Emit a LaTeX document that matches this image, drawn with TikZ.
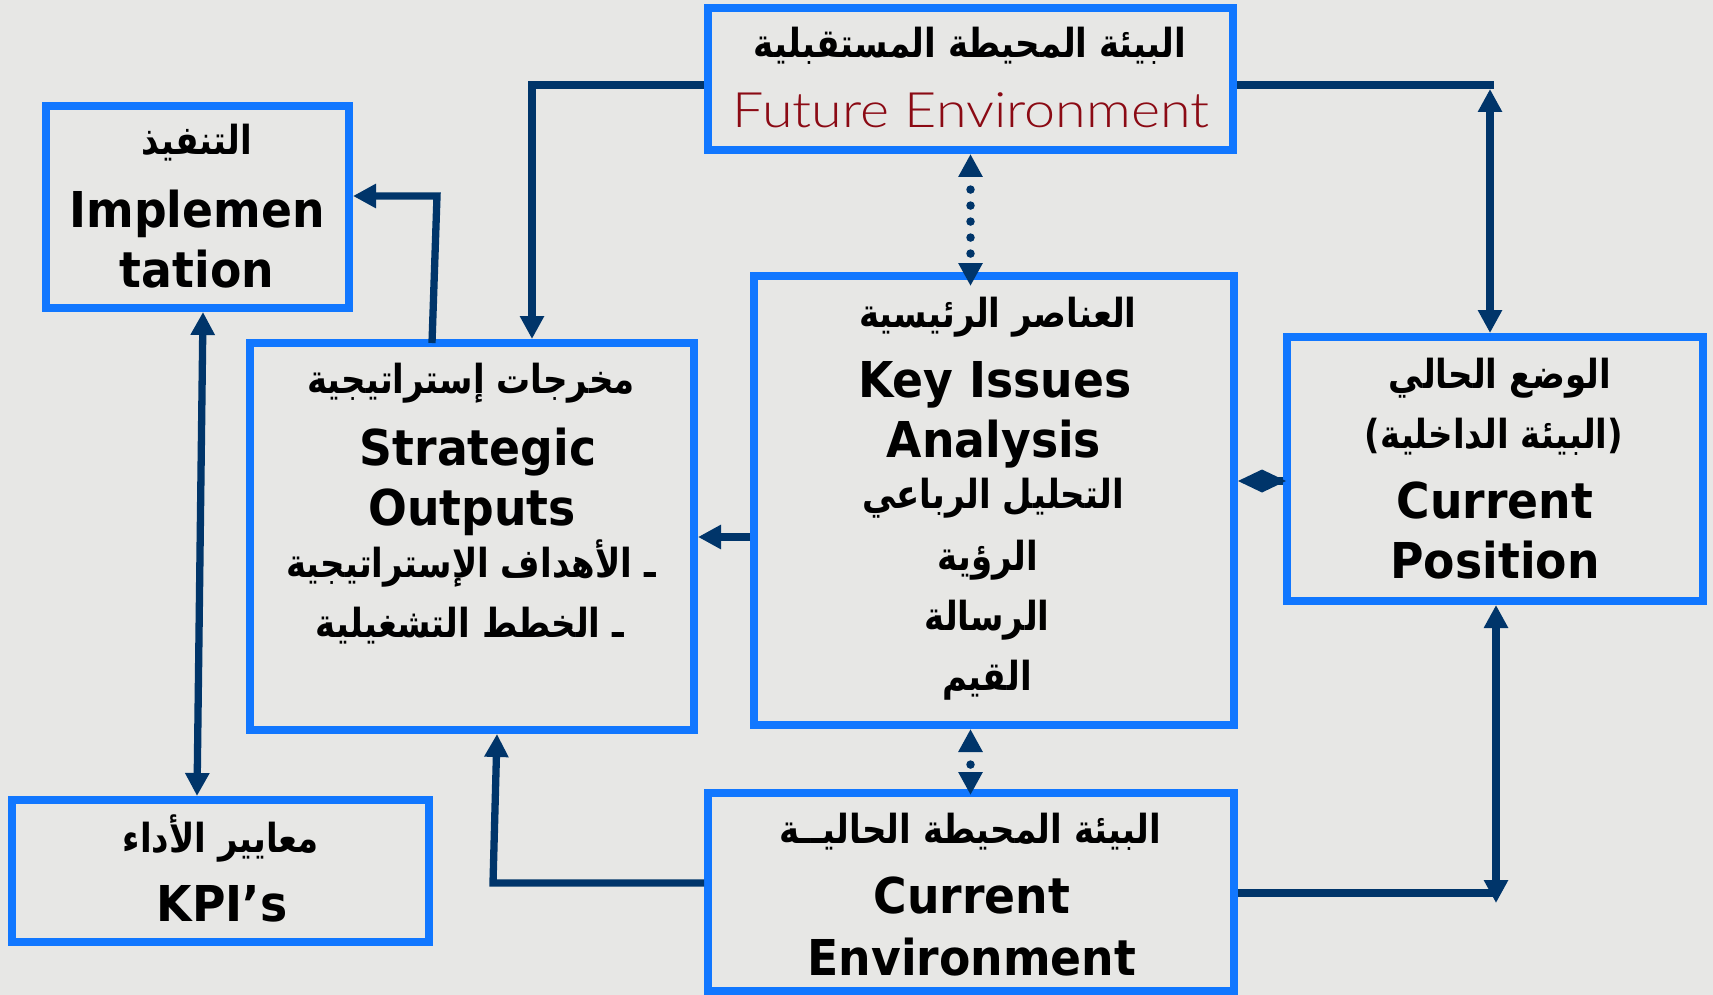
\documentclass[tikz,border=0pt]{standalone}
\usepackage{fontspec}
\usetikzlibrary{arrows.meta}
\TeXXeTstate=1
\newfontfamily\arfont[Script=Arabic,FakeStretch=0.85]{DejaVu Sans}
\newfontfamily\enfont[FakeStretch=0.925]{DejaVu Sans}
\IfFontExistsTF{Lato Light}{\newfontfamily\thinfont[FakeStretch=1.14]{Lato Light}}{\newfontfamily\thinfont[FakeStretch=1.14]{Lato}}
\definecolor{bg}{HTML}{E7E7E5}
\definecolor{boxblue}{HTML}{1177FF}
\definecolor{navy}{HTML}{00356A}
\definecolor{darkred}{HTML}{8B0A14}
\tikzset{
  box/.style={draw=boxblue, line width=8pt, inner sep=0pt},
  en/.style={anchor=base, inner sep=0pt, font=\enfont\bfseries\fontsize{49.4}{50}\selectfont},
  ar/.style={anchor=base, inner sep=0pt, font=\arfont\bfseries\fontsize{40}{44}\selectfont},
  thin/.style={anchor=base, inner sep=0pt, text=darkred, font=\thinfont\fontsize{48.8}{50}\selectfont},
  conn/.style={draw=navy, line width=7.3pt},
  dotconn/.style={draw=navy, line width=8.5pt, line cap=round, dash pattern=on 0pt off 16pt, dash phase=2pt},
  tri/.tip={Triangle[length=23pt,width=23pt]},
  dia/.tip={Diamond[length=48pt,width=23pt]}
}
\begin{document}
\begin{tikzpicture}[x=1pt,y=-1pt]
\path[use as bounding box, fill=bg] (0,0) rectangle (1713,995);

% boxes
\node[box, minimum width=525pt, minimum height=142pt] (fut) at (970.5,79) {};
\node[box, minimum width=303pt, minimum height=202pt] (impl) at (197.5,207) {};
\node[box, minimum width=444pt, minimum height=387pt] (strat) at (472,536.5) {};
\node[box, minimum width=480pt, minimum height=449pt] (key) at (994,500.5) {};
\node[box, minimum width=416pt, minimum height=264pt] (cpos) at (1495,469) {};
\node[box, minimum width=417pt, minimum height=142pt] (kpi) at (220.5,871) {};
\node[box, minimum width=526pt, minimum height=198pt] (cenv) at (971,892) {};

% texts: future environment
\node[ar] (f1) at (970,58) {\beginR البيئة المحيطة المستقبلية\endR};
\node[thin] (f2) at (971,128) {Future Environment};
% implementation
\node[ar] (i1) at (197,155) {\beginR التنفيذ\endR};
\node[en] (i2) at (197,227) {Implemen};
\node[en] (i3) at (197,287) {tation};
% strategic outputs
\node[ar] (s1) at (471,393) {\beginR مخرجات إستراتيجية\endR};
\node[en] (s2) at (478,465) {Strategic};
\node[en] (s3) at (472,525) {Outputs};
\node[ar] (s4) at (471,577) {\beginR ـ الأهداف الإستراتيجية\endR};
\node[ar] (s5) at (470,637) {\beginR ـ الخطط التشغيلية\endR};
% key issues
\node[ar] (k1) at (998,327) {\beginR العناصر الرئيسية\endR};
\node[en] (k2) at (995,397) {Key Issues};
\node[en] (k3) at (994,457) {Analysis};
\node[ar] (k4) at (993,508) {\beginR التحليل الرباعي\endR};
\node[ar] (k5) at (988,570) {\beginR الرؤية\endR};
\node[ar] (k6) at (987,630) {\beginR الرسالة\endR};
\node[ar] (k7) at (987,690) {\beginR القيم\endR};
% current position
\node[ar] (p1) at (1500,388) {\beginR الوضع الحالي\endR};
\node[ar] (p2) at (1494,448) {\beginR (البيئة الداخلية)\endR};
\node[en] (p3) at (1495,518) {Current};
\node[en] (p4) at (1495,578) {Position};
% KPI
\node[ar] (q1) at (221,852) {\beginR معايير الأداء\endR};
\node[en] (q2) at (222,921) {KPI’s};
% current environment
\node[ar] (e1) at (970,843) {\beginR البيئة المحيطة الحاليــة\endR};
\node[en] (e2) at (972,913) {Current};
\node[en] (e3) at (972,975) {Environment};

% helper coordinates
\coordinate (c1) at (532,85);
\coordinate (c2) at (1494,85);
\coordinate (c2b) at (1490,89);
\coordinate (c4a) at (432,343);
\coordinate (c4) at (437,196);
\coordinate (c5) at (720,537);
\coordinate (c6) at (1260,481);
\coordinate (c8) at (493,883);
\coordinate (c8b) at (497,700);
\coordinate (c9) at (1499,893);
\coordinate (c9b) at (1496,903);
\coordinate (c10a) at (203,0);
\coordinate (c10b) at (197,0);

% connectors
\draw[conn,-tri] (fut.west |- c1) -- (c1) -- (c1 |- strat.north);
\draw[conn] (fut.east |- c2) -- (c2);
\draw[conn,tri-tri] (c2b) -- (c2b |- cpos.north);
\draw[dotconn,tri-tri,shorten >=-14pt] (fut.south) -- (fut.south |- key.north);
\draw[conn,-tri] (c4a) -- (c4) -- (c4 -| impl.east);
\draw[conn,-tri] (key.west |- c5) -- (strat.east |- c5);
\draw[conn,-dia] (cpos.west |- c6) -- (key.east |- c6);
\draw[dotconn,tri-tri,shorten >=-6pt] (fut.south |- key.south) -- (fut.south |- cenv.north);
\draw[conn,-tri] (cenv.west |- c8) -- (c8) -- (c8b |- strat.south);
\draw[conn] (cenv.east |- c9) -- (c9);
\draw[conn,tri-tri] (c9b) -- (c9b |- cpos.south);
\draw[conn,tri-tri] (c10a |- impl.south) -- (c10b |- kpi.north);
\end{tikzpicture}
\end{document}
